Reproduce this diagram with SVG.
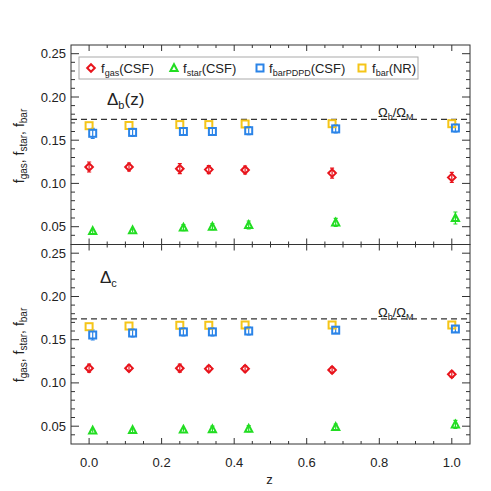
<svg xmlns="http://www.w3.org/2000/svg" xmlns:xlink="http://www.w3.org/1999/xlink" width="491" height="491" viewBox="0 0 491 491">
<style>
text{font-family:"Liberation Sans",Arial,sans-serif;fill:#222}
.tl{font-size:13px}
.ax{fill:none;stroke:#333;stroke-width:1}
.dash{stroke:#333;stroke-width:1.2;stroke-dasharray:6 4;fill:none}
.red{stroke:#e8141c;fill:none;stroke-width:1.2}
.grn{stroke:#22dd22;fill:none;stroke-width:1.2}
.blu{stroke:#2b84e8;fill:none;stroke-width:1.2}
.yel{stroke:#f5c518;fill:none;stroke-width:1.2}
</style>
<defs>
<path id="dia" d="M0,-3.8 L3.8,0 L0,3.8 L-3.8,0Z" fill="none" stroke="#e8141c" stroke-width="2"/>
<path id="tri" d="M0,-3.8 L3.6,3 L-3.6,3Z" fill="none" stroke="#22dd22" stroke-width="2" stroke-linejoin="miter"/>
<rect id="sqb" x="-3.5" y="-3.5" width="7" height="7" fill="none" stroke="#2b84e8" stroke-width="2"/>
<rect id="sqy" x="-3.5" y="-3.5" width="7" height="7" fill="none" stroke="#f5c518" stroke-width="2"/>
<path id="yt" class="ax" d="M71 53.7h8M71 97h8M71 140.2h8M71 183.4h8M71 226.7h8M71 62.3h4M71 71h4M71 79.6h4M71 88.3h4M71 105.6h4M71 114.2h4M71 122.9h4M71 131.5h4M71 148.8h4M71 157.5h4M71 166.1h4M71 174.8h4M71 192.1h4M71 200.7h4M71 209.4h4M71 218h4M71 235.3h4"/>
<path id="xt" class="ax" d="M89.1 0v6M161.6 0v6M234.2 0v6M306.7 0v6M379.3 0v6M451.8 0v6M107.2 0v3M125.4 0v3M143.5 0v3M179.8 0v3M197.9 0v3M216 0v3M252.3 0v3M270.5 0v3M288.6 0v3M324.9 0v3M343 0v3M361.1 0v3M397.4 0v3M415.5 0v3M433.7 0v3"/>
</defs>

<g id="axes">
<rect class="ax" x="71" y="45" width="399" height="199.5"/>
<rect class="ax" x="71" y="244.5" width="399" height="199.5"/>
<use xlink:href="#yt"/>
<use xlink:href="#yt" transform="translate(541,0) scale(-1,1)"/>
<use xlink:href="#yt" transform="translate(0,199.5)"/>
<use xlink:href="#yt" transform="translate(541,199.5) scale(-1,1)"/>
<use xlink:href="#xt" transform="translate(0,45)"/>
<use xlink:href="#xt" transform="translate(0,244.5) scale(1,-1)"/>
<use xlink:href="#xt" transform="translate(0,244.5)"/>
<use xlink:href="#xt" transform="translate(0,444) scale(1,-1)"/>
</g>

<g id="tick-labels" class="tl">
<g text-anchor="end">
<text x="66" y="58.2">0.25</text><text x="66" y="101.5">0.20</text><text x="66" y="144.7">0.15</text><text x="66" y="187.9">0.10</text><text x="66" y="231.2">0.05</text>
<text x="66" y="257.7">0.25</text><text x="66" y="301">0.20</text><text x="66" y="344.2">0.15</text><text x="66" y="387.4">0.10</text><text x="66" y="430.7">0.05</text>
</g>
<g text-anchor="middle">
<text x="89.1" y="467">0.0</text><text x="161.6" y="467">0.2</text><text x="234.2" y="467">0.4</text><text x="306.7" y="467">0.6</text><text x="379.3" y="467">0.8</text><text x="451.8" y="467">1.0</text>
<text x="269.5" y="484">z</text>
</g>
<text transform="translate(24,146) rotate(-90)" text-anchor="middle" font-size="14">f<tspan font-size="10" dy="3">gas</tspan><tspan dy="-3">, f</tspan><tspan font-size="10" dy="3">star</tspan><tspan dy="-3">, f</tspan><tspan font-size="10" dy="3">bar</tspan></text>
<text transform="translate(24,345) rotate(-90)" text-anchor="middle" font-size="14">f<tspan font-size="10" dy="3">gas</tspan><tspan dy="-3">, f</tspan><tspan font-size="10" dy="3">star</tspan><tspan dy="-3">, f</tspan><tspan font-size="10" dy="3">bar</tspan></text>
</g>

<g id="reference-lines">
<path class="dash" d="M71 119.3H470M71 318.8H470"/>
<text class="tl" x="378" y="117">Ω<tspan font-size="9" dy="3">b</tspan><tspan dy="-3">/Ω</tspan><tspan font-size="9" dy="3">M</tspan></text>
<text class="tl" x="378" y="316.5">Ω<tspan font-size="9" dy="3">b</tspan><tspan dy="-3">/Ω</tspan><tspan font-size="9" dy="3">M</tspan></text>
</g>

<g id="panel-labels">
<text x="107" y="105" font-size="17">Δ<tspan font-size="11" dy="4">b</tspan><tspan dy="-4">(z)</tspan></text>
<text x="100" y="283" font-size="17">Δ<tspan font-size="11" dy="4">c</tspan></text>
</g>

<g id="legend">
<rect x="79" y="57" width="339" height="22" fill="#fff" stroke="#aaa" stroke-width="1"/>
<use xlink:href="#dia" x="91" y="68"/>
<text class="tl" x="101" y="73">f<tspan font-size="9" dy="3">gas</tspan><tspan dy="-3">(CSF)</tspan></text>
<use xlink:href="#tri" x="174" y="68"/>
<text class="tl" x="183" y="73">f<tspan font-size="9" dy="3">star</tspan><tspan dy="-3">(CSF)</tspan></text>
<use xlink:href="#sqb" x="260" y="68"/>
<text class="tl" x="269" y="73">f<tspan font-size="9" dy="3">barPDPD</tspan><tspan dy="-3">(CSF)</tspan></text>
<use xlink:href="#sqy" x="362" y="68"/>
<text class="tl" x="372" y="73">f<tspan font-size="9" dy="3">bar</tspan><tspan dy="-3">(NR)</tspan></text>
</g>

<g id="top-data">
<path class="red" d="M89.1 162v10M87 162h4.2M87 172h4.2M129 163v8M127 163h4M127 171h4M179.8 163.7v10M177.8 163.7h4M177.8 173.7h4M208.8 165.6v8M206.8 165.6h4M206.8 173.6h4M245.1 166v8M243.1 166h4M243.1 174h4M332.1 168.1v10M330.1 168.1h4M330.1 178.1h4M451.8 172.4v10M449.8 172.4h4M449.8 182.4h4"/>
<use xlink:href="#dia" x="89.1" y="167"/><use xlink:href="#dia" x="129" y="167"/><use xlink:href="#dia" x="179.8" y="168.7"/><use xlink:href="#dia" x="208.8" y="169.6"/><use xlink:href="#dia" x="245.1" y="170"/><use xlink:href="#dia" x="332.1" y="173.1"/><use xlink:href="#dia" x="451.8" y="177.4"/>
<path class="blu" d="M92.7 128.3v10M90.7 128.3h4M90.7 138.3h4M132.6 128.4v8M130.6 128.4h4M130.6 136.4h4M183.4 127.5v8M181.4 127.5h4M181.4 135.5h4M212.4 127.5v8M210.4 127.5h4M210.4 135.5h4M248.7 126.7v8M246.7 126.7h4M246.7 134.7h4M335.7 124.9v8M333.7 124.9h4M333.7 132.9h4M455.4 124v8M453.4 124h4M453.4 132h4"/>
<use xlink:href="#sqy" x="89.1" y="125.7"/><use xlink:href="#sqy" x="129" y="125.5"/><use xlink:href="#sqy" x="179.8" y="124.6"/><use xlink:href="#sqy" x="208.8" y="124.6"/><use xlink:href="#sqy" x="245.1" y="124"/><use xlink:href="#sqy" x="332.1" y="123.7"/><use xlink:href="#sqy" x="451.8" y="123.7"/>
<use xlink:href="#sqb" x="92.7" y="133.3"/><use xlink:href="#sqb" x="132.6" y="132.4"/><use xlink:href="#sqb" x="183.4" y="131.5"/><use xlink:href="#sqb" x="212.4" y="131.5"/><use xlink:href="#sqb" x="248.7" y="130.7"/><use xlink:href="#sqb" x="335.7" y="128.9"/><use xlink:href="#sqb" x="455.4" y="128"/>
<path class="grn" d="M92.7 229v4M132.6 228.2v4M183.4 224.6v6M181.4 224.6h4M181.4 230.6h4M212.4 223.7v6M210.4 223.7h4M210.4 229.7h4M248.7 221v8M246.7 221h4M246.7 229h4M335.7 218.4v8M333.7 218.4h4M333.7 226.4h4M455.4 212v12M453.4 212h4M453.4 224h4"/>
<use xlink:href="#tri" x="92.7" y="231"/><use xlink:href="#tri" x="132.6" y="230.2"/><use xlink:href="#tri" x="183.4" y="227.6"/><use xlink:href="#tri" x="212.4" y="226.7"/><use xlink:href="#tri" x="248.7" y="225"/><use xlink:href="#tri" x="335.7" y="222.4"/><use xlink:href="#tri" x="455.4" y="218"/>
</g>

<g id="bottom-data">
<path class="red" d="M89.1 364.2v8M87.1 364.2h4M87.1 372.2h4M129 365.2v6M127 365.2h4M127 371.2h4M179.8 364.2v8M177.8 364.2h4M177.8 372.2h4M208.8 365.7v6M206.8 365.7h4M206.8 371.7h4M245.1 365.7v6M243.1 365.7h4M243.1 371.7h4M332.1 367v6M330.1 367h4M330.1 373h4M451.8 371.3v6M449.8 371.3h4M449.8 377.3h4"/>
<use xlink:href="#dia" x="89.1" y="368.2"/><use xlink:href="#dia" x="129" y="368.2"/><use xlink:href="#dia" x="179.8" y="368.2"/><use xlink:href="#dia" x="208.8" y="368.7"/><use xlink:href="#dia" x="245.1" y="368.7"/><use xlink:href="#dia" x="332.1" y="370"/><use xlink:href="#dia" x="451.8" y="374.3"/>
<path class="blu" d="M92.7 330v10M90.7 330h4M90.7 340h4M132.6 329v8M130.6 329h4M130.6 337h4M183.4 327.9v8M181.4 327.9h4M181.4 335.9h4M212.4 327.9v8M210.4 327.9h4M210.4 335.9h4M248.7 327v8M246.7 327h4M246.7 335h4M335.7 327.2v6M333.7 327.2h4M333.7 333.2h4M455.4 326v6M453.4 326h4M453.4 332h4"/>
<use xlink:href="#sqy" x="89.1" y="326.7"/><use xlink:href="#sqy" x="129" y="326"/><use xlink:href="#sqy" x="179.8" y="325.3"/><use xlink:href="#sqy" x="208.8" y="325.3"/><use xlink:href="#sqy" x="245.1" y="325"/><use xlink:href="#sqy" x="332.1" y="325"/><use xlink:href="#sqy" x="451.8" y="325"/>
<use xlink:href="#sqb" x="92.7" y="335"/><use xlink:href="#sqb" x="132.6" y="333"/><use xlink:href="#sqb" x="183.4" y="331.9"/><use xlink:href="#sqb" x="212.4" y="331.9"/><use xlink:href="#sqb" x="248.7" y="331"/><use xlink:href="#sqb" x="335.7" y="330.2"/><use xlink:href="#sqb" x="455.4" y="329"/>
<path class="grn" d="M92.7 428.5v4M132.6 428v4M183.4 427.6v4M212.4 426.2v6M210.4 426.2h4M210.4 432.2h4M248.7 425.7v6M246.7 425.7h4M246.7 431.7h4M335.7 424v6M333.7 424h4M333.7 430h4M455.4 420.4v8M453.4 420.4h4M453.4 428.4h4"/>
<use xlink:href="#tri" x="92.7" y="430.5"/><use xlink:href="#tri" x="132.6" y="430"/><use xlink:href="#tri" x="183.4" y="429.6"/><use xlink:href="#tri" x="212.4" y="429.2"/><use xlink:href="#tri" x="248.7" y="428.7"/><use xlink:href="#tri" x="335.7" y="427"/><use xlink:href="#tri" x="455.4" y="424.4"/>
</g>
</svg>
